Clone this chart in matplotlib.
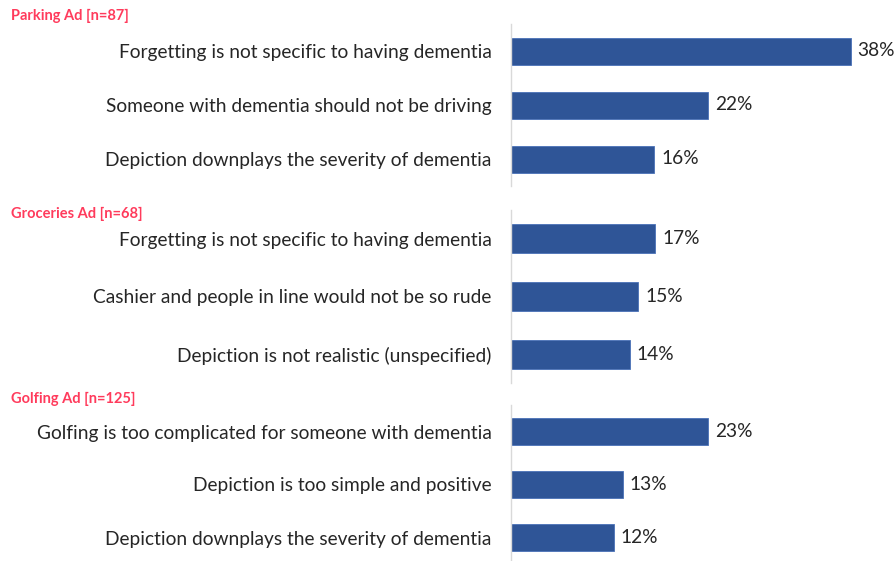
import matplotlib
matplotlib.use("Agg")
import matplotlib.pyplot as plt

plt.rcParams['font.family'] = ['Lato', 'DejaVu Sans']

# three ad groups, each with its own top-3 reasons
titles = ['Parking Ad [n=87]', 'Groceries Ad [n=68]', 'Golfing Ad [n=125]']

parking_labels = ['Forgetting is not specific to having dementia',
                  'Someone with dementia should not be driving',
                  'Depiction downplays the severity of dementia']
parking_values = [38, 22, 16]

groceries_labels = ['Forgetting is not specific to having dementia',
                    'Cashier and people in line would not be so rude',
                    'Depiction is not realistic (unspecified)']
groceries_values = [17, 15, 14]

golfing_labels = ['Golfing is too complicated for someone with dementia',
                  'Depiction is too simple and positive',
                  'Depiction downplays the severity of dementia']
golfing_values = [23, 13, 12]

W, H = 895, 561
fig = plt.figure(figsize=(W / 100, H / 100), dpi=100)

bar_col = '#2F5597'
title_col = '#FF3B5C'
text_col = '#262626'

# pixel boxes (top, bottom) for each block, plus x max of the axis
panels = [
    (titles[0], parking_labels, parking_values, 24, 186, 42.95, 16),
    (titles[1], groceries_labels, groceries_values, 210, 383, 45.2, 214),
    (titles[2], golfing_labels, golfing_values, 405, 564, 44.75, 399),
]

x0 = 511
for title, labels, values, top, bottom, xmax, ty in panels:
    ax = fig.add_axes([x0 / W, 1 - bottom / H, (W - x0) / W, (bottom - top) / H])
    ypos = list(range(len(values)))
    ax.barh(ypos, values, height=0.5, color=bar_col, edgecolor='#4A72B8', linewidth=0.6)
    ax.set_ylim(2.5, -0.5)
    ax.set_xlim(0, xmax)
    ax.set_yticks(ypos)
    ax.set_yticklabels(labels, fontsize=13.8, color=text_col)
    ax.tick_params(axis='y', length=0, pad=14)
    ax.set_xticks([])
    for s in ['top', 'right', 'bottom']:
        ax.spines[s].set_visible(False)
    ax.spines['left'].set_color('#D9D9D9')
    ax.spines['left'].set_linewidth(1.0)
    for y, v in zip(ypos, values):
        ax.annotate(f'{v}%', (v, y), xytext=(5, 0), textcoords='offset points',
                    va='center', ha='left', fontsize=13.8, color=text_col)
    fig.text(11 / W, 1 - ty / H, title, fontsize=10.5, fontweight='bold',
             color=title_col, va='center', ha='left')

fig.savefig('out.png', dpi=100)
